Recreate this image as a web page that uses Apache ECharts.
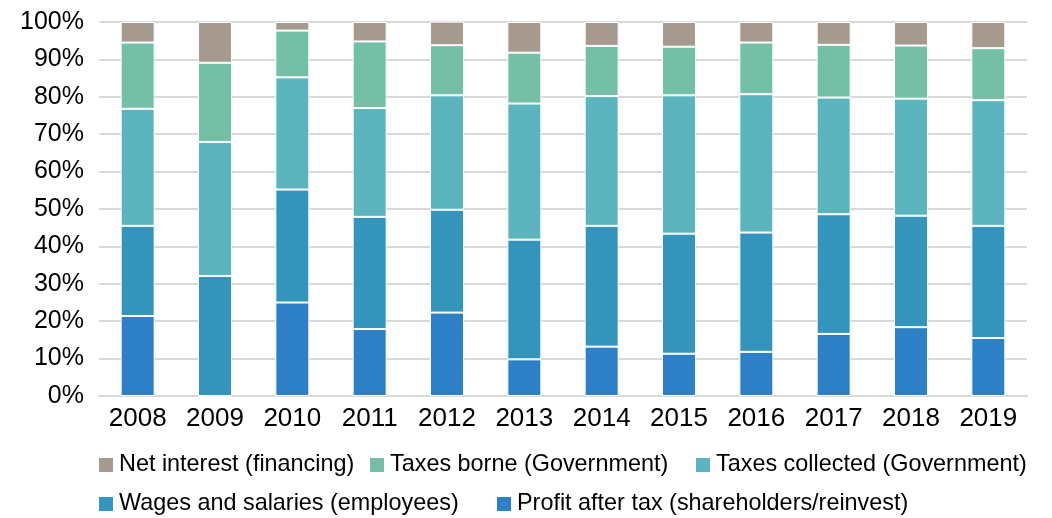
<!DOCTYPE html>
<html>
<head>
<meta charset="utf-8">
<script src="https://cdn.jsdelivr.net/npm/echarts@6/dist/echarts.min.js"></script>
<style>html,body{margin:0;padding:0;background:#fff;}#c{width:1052px;height:518px;}</style>
</head>
<body>
<div id="c"></div>
<script>
const years = ['2008','2009','2010','2011','2012','2013','2014','2015','2016','2017','2018','2019'];
const profitAfterTax = [21.4, 0, 25.0, 17.9, 22.3, 9.8, 13.2, 11.3, 11.8, 16.6, 18.4, 15.5];
const wagesSalaries  = [24.1, 32.1, 30.2, 30.0, 27.5, 32.0, 32.3, 32.1, 31.9, 32.0, 29.8, 30.0];
const taxesCollected = [31.3, 35.8, 30.0, 29.1, 30.6, 36.4, 34.7, 37.0, 37.0, 31.2, 31.3, 33.6];
const taxesBorne     = [17.7, 21.2, 12.5, 17.8, 13.4, 13.6, 13.4, 13.0, 13.8, 14.1, 14.2, 13.9];
const netInterest    = [5.5, 10.9, 2.3, 5.2, 6.3, 8.2, 6.4, 6.6, 5.5, 6.1, 6.3, 7.0];
const yTicks = [0,10,20,30,40,50,60,70,80,90,100];

const names = {
  ni: 'Net interest (financing)',
  tb: 'Taxes borne (Government)',
  tc: 'Taxes collected (Government)',
  ws: 'Wages and salaries (employees)',
  pt: 'Profit after tax (shareholders/reinvest)'
};
const colors = {
  ni: '#a69a8f', tb: '#75bfa6', tc: '#5cb5be', ws: '#3594bc', pt: '#2d80c5'
};
const font = '"Liberation Sans", Arial, sans-serif';

function bar(key, data) {
  return {
    name: names[key], type: 'bar', stack: 'total', data: data,
    barWidth: 34,
    itemStyle: { color: colors[key], borderColor: '#ffffff', borderWidth: 1 },
    emphasis: { disabled: true }
  };
}
function leg(key, left, top) {
  return {
    data: [names[key]], left: left, top: top, padding: 0,
    itemWidth: 16, itemHeight: 16, icon: 'rect',
    textStyle: { fontFamily: font, fontSize: 23.4, color: '#000', lineHeight: 26 },
    selectedMode: false
  };
}

const chart = echarts.init(document.getElementById('c'), null, { renderer: 'canvas' });
chart.setOption({
  animation: false,
  grid: { left: 99, right: 25, top: 22, bottom: 122, containLabel: false },
  legend: [
    leg('ni', 97, 452),
    leg('tb', 368, 452),
    leg('tc', 694, 452),
    leg('ws', 97, 491),
    leg('pt', 495, 491)
  ],
  xAxis: {
    type: 'category', data: years,
    axisLine: { show: true, lineStyle: { color: '#d9d9d9', width: 2 } },
    axisTick: { show: false },
    axisLabel: { fontFamily: font, fontSize: 26, color: '#000', margin: 10 }
  },
  yAxis: {
    type: 'value', min: 0, max: 100, interval: 10,
    axisLine: { show: false }, axisTick: { show: false },
    splitLine: { show: true, lineStyle: { color: '#d9d9d9', width: 2 } },
    axisLabel: { fontFamily: font, fontSize: 25, color: '#000', margin: 15,
      formatter: v => yTicks.includes(v) ? v + '%' : '' }
  },
  series: [
    bar('pt', profitAfterTax),
    bar('ws', wagesSalaries),
    bar('tc', taxesCollected),
    bar('tb', taxesBorne),
    bar('ni', netInterest)
  ]
});
</script>
</body>
</html>
